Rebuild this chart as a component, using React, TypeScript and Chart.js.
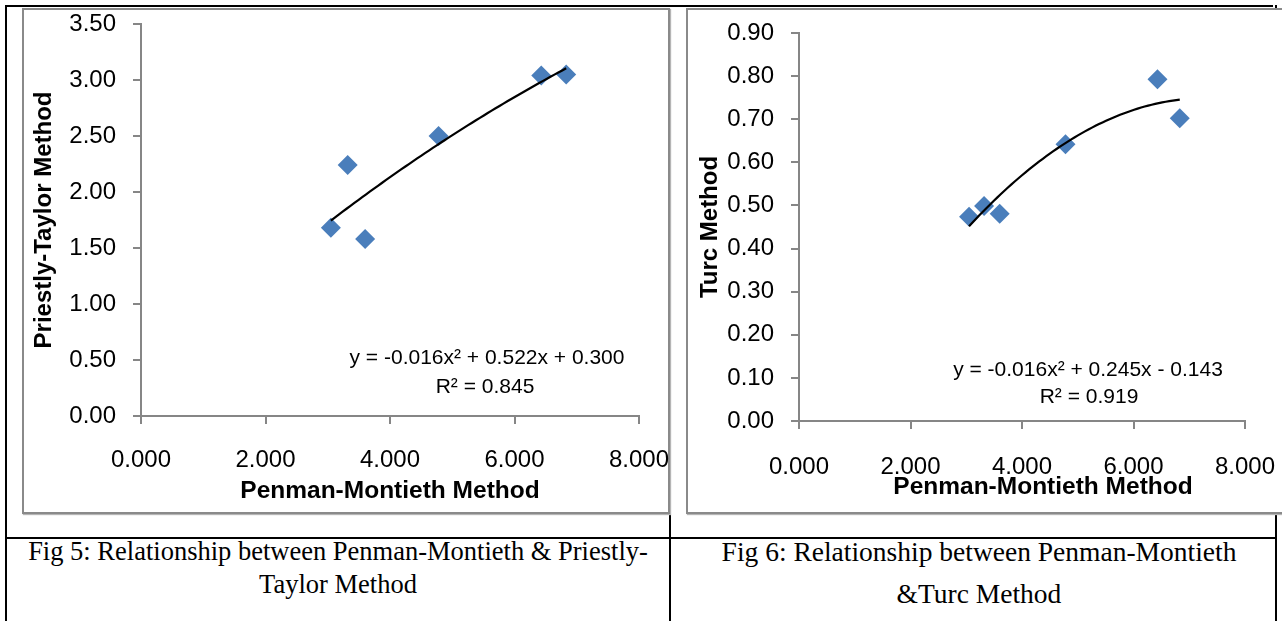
import React, { useEffect, useRef } from "react";
import { Chart, registerables } from "chart.js";

Chart.register(...registerables);

// ---- data ----
const penmanMonteith = [3.05, 3.32, 3.6, 4.78, 6.43, 6.83];
const priestlyTaylor = [1.68, 2.24, 1.58, 2.5, 3.04, 3.05];
const turcValues = [0.474, 0.499, 0.481, 0.642, 0.793, 0.702];

const xTickValues = [0, 2, 4, 6, 8];
const ptTickValues = [0, 0.5, 1, 1.5, 2, 2.5, 3, 3.5];
const turcTickValues = [0, 0.1, 0.2, 0.3, 0.4, 0.5, 0.6, 0.7, 0.8, 0.9];

const ptEquation = ["y = -0.016x\u00B2 + 0.522x + 0.300", "R\u00B2 = 0.845"];
const turcEquation = ["y = -0.016x\u00B2 + 0.245x - 0.143", "R\u00B2 = 0.919"];

const xTitle = "Penman-Montieth Method";
const ptTitle = "Priestly-Taylor Method";
const turcTitle = "Turc Method";

const caption5 = ["Fig 5: Relationship between Penman-Montieth & Priestly-", "Taylor Method"];
const caption6 = ["Fig 6: Relationship between Penman-Montieth", "&Turc Method"];

// ---- helpers ----
function quadFit(xs: number[], ys: number[]) {
  // least-squares fit y = a x^2 + b x + c (same as a polynomial trendline of order 2)
  let s0 = 0, s1 = 0, s2 = 0, s3 = 0, s4 = 0, t0 = 0, t1 = 0, t2 = 0;
  for (let i = 0; i < xs.length; i++) {
    const x = xs[i], y = ys[i];
    s0 += 1; s1 += x; s2 += x * x; s3 += x * x * x; s4 += x * x * x * x;
    t0 += y; t1 += x * y; t2 += x * x * y;
  }
  const M = [
    [s4, s3, s2, t2],
    [s3, s2, s1, t1],
    [s2, s1, s0, t0],
  ];
  for (let i = 0; i < 3; i++) {
    let p = i;
    for (let r = i + 1; r < 3; r++) if (Math.abs(M[r][i]) > Math.abs(M[p][i])) p = r;
    [M[i], M[p]] = [M[p], M[i]];
    for (let r = 0; r < 3; r++) {
      if (r === i) continue;
      const f = M[r][i] / M[i][i];
      for (let c = i; c < 4; c++) M[r][c] -= f * M[i][c];
    }
  }
  return [M[0][3] / M[0][0], M[1][3] / M[1][1], M[2][3] / M[2][2]];
}

function trendPoints(xs: number[], ys: number[]) {
  const [a, b, c] = quadFit(xs, ys);
  const lo = Math.min(...xs), hi = Math.max(...xs);
  const pts: { x: number; y: number }[] = [];
  const n = 60;
  for (let i = 0; i <= n; i++) {
    const x = lo + ((hi - lo) * i) / n;
    pts.push({ x, y: a * x * x + b * x + c });
  }
  return pts;
}

const freeTextPlugin = {
  id: "freeText",
  afterDraw(chart: any, _args: any, opts: any) {
    const ctx = chart.ctx;
    for (const t of opts.items || []) {
      ctx.save();
      ctx.font = t.font;
      ctx.fillStyle = "#000";
      ctx.textAlign = "center";
      ctx.textBaseline = "middle";
      ctx.translate(t.x, t.y);
      if (t.rotation) ctx.rotate(t.rotation);
      ctx.fillText(t.text, 0, 0);
      ctx.restore();
    }
  },
};

const FONT = "'Liberation Sans', Arial, sans-serif";
const AXIS_GRAY = "#868686";
const MARKER = "#4A7EBB";

type ChartSpec = {
  yValues: number[];
  yTicks: number[];
  yDecimals: number;
  yTitle: string;
  xTitleOnScale: boolean;
  padding: { left: number; right: number; top: number; bottom: number };
  yWidth: number;
  xHeight: number;
  xTickPadding: number;
  texts: any[];
};

function ScatterChart({ spec, width, height, style }: { spec: ChartSpec; width: number; height: number; style: React.CSSProperties }) {
  const ref = useRef<HTMLCanvasElement | null>(null);
  useEffect(() => {
    if (!ref.current) return;
    const points = penmanMonteith.map((x, i) => ({ x, y: spec.yValues[i] }));
    const chart = new Chart(ref.current, {
      type: "scatter",
      data: {
        datasets: [
          {
            label: "Trend",
            data: trendPoints(penmanMonteith, spec.yValues),
            showLine: true,
            borderColor: "#000",
            borderWidth: 2.2,
            pointRadius: 0,
            tension: 0,
            fill: false,
          } as any,
          {
            label: "Data",
            data: points,
            pointStyle: "rectRot",
            pointRadius: 10,
            pointHoverRadius: 10,
            backgroundColor: MARKER,
            borderWidth: 0,
          } as any,
        ],
      },
      options: {
        animation: false,
        responsive: false,
        layout: { padding: spec.padding },
        plugins: {
          legend: { display: false },
          tooltip: { enabled: false },
          freeText: { items: spec.texts },
        } as any,
        scales: {
          x: {
            type: "linear",
            min: xTickValues[0],
            max: xTickValues[xTickValues.length - 1],
            afterBuildTicks: (s: any) => {
              s.ticks = xTickValues.map((v) => ({ value: v }));
            },
            afterFit: (s: any) => {
              s.height = spec.xHeight;
            },
            ticks: {
              autoSkip: false,
              maxRotation: 0,
              padding: spec.xTickPadding,
              color: "#000",
              font: { family: FONT, size: 24 },
              callback: (v: any) => Number(v).toFixed(3),
            },
            grid: { drawOnChartArea: false, drawTicks: true, tickLength: 8, color: AXIS_GRAY, lineWidth: 2 },
            border: { display: true, color: AXIS_GRAY, width: 2 },
            title: {
              display: spec.xTitleOnScale,
              text: xTitle,
              color: "#000",
              padding: 0,
              font: { family: FONT, size: 24.5, weight: "bold" },
            },
          },
          y: {
            type: "linear",
            min: spec.yTicks[0],
            max: spec.yTicks[spec.yTicks.length - 1],
            afterBuildTicks: (s: any) => {
              s.ticks = spec.yTicks.map((v) => ({ value: v }));
            },
            afterFit: (s: any) => {
              s.width = spec.yWidth;
            },
            ticks: {
              autoSkip: false,
              padding: 17,
              color: "#000",
              font: { family: FONT, size: 24 },
              callback: (v: any) => Number(v).toFixed(spec.yDecimals),
            },
            grid: { drawOnChartArea: false, drawTicks: true, tickLength: 8, color: AXIS_GRAY, lineWidth: 2 },
            border: { display: true, color: AXIS_GRAY, width: 2 },
            title: {
              display: true,
              text: spec.yTitle,
              color: "#000",
              padding: 0,
              font: { family: FONT, size: 24, weight: "bold" },
            },
          },
        },
      },
      plugins: [freeTextPlugin as any],
    });
    return () => chart.destroy();
  }, [spec]);
  return <canvas ref={ref} width={width} height={height} style={{ position: "absolute", width, height, ...style }} />;
}

const eqFont = `21px ${FONT}`;

// left canvas sits at page (0,-8), 695x520 -> plot area x 141..639, y 24..416
const leftSpec: ChartSpec = {
  yValues: priestlyTaylor,
  yTicks: ptTickValues,
  yDecimals: 2,
  yTitle: ptTitle,
  xTitleOnScale: true,
  padding: { left: 30, right: 56, top: 32, bottom: 6 },
  yWidth: 111,
  xHeight: 90,
  xTickPadding: 22,
  texts: [
    { text: ptEquation[0], x: 487, y: 366, font: eqFont },
    { text: ptEquation[1], x: 485, y: 395, font: eqFont },
  ],
};

// right canvas sits at page (680,0), 621x520 -> plot area x 799..1245, y 33..421
const rightSpec: ChartSpec = {
  yValues: turcValues,
  yTicks: turcTickValues,
  yDecimals: 2,
  yTitle: turcTitle,
  xTitleOnScale: false,
  padding: { left: 16, right: 56, top: 33, bottom: 39 },
  yWidth: 103,
  xHeight: 60,
  xTickPadding: 24,
  texts: [
    { text: turcEquation[0], x: 408, y: 370, font: eqFont },
    { text: turcEquation[1], x: 409, y: 397, font: eqFont },
    { text: xTitle, x: 363, y: 487, font: `bold 24.5px ${FONT}` },
  ],
};

const line = (left: number, top: number, width: number, height: number): React.CSSProperties => ({
  position: "absolute",
  left,
  top,
  width,
  height,
  background: "#000",
});

const captionStyle: React.CSSProperties = {
  position: "absolute",
  textAlign: "center",
  fontFamily: "'Liberation Serif', 'Times New Roman', serif",
  fontSize: 26.5,
  color: "#000",
  whiteSpace: "nowrap",
};

export default function App() {
  return (
    <div
      style={{
        position: "absolute",
        left: 0,
        top: 0,
        width: 1282,
        height: 621,
        background: "#fff",
        overflow: "hidden",
      }}
    >
      {/* table lines */}
      <div style={line(5, 5, 1268, 2)} />
      <div style={line(5, 5, 2, 616)} />
      <div style={line(669, 500, 2, 121)} />
      <div style={line(5, 537, 1272, 2)} />
      <div style={line(1275, 5, 2, 616)} />

      {/* chart frames */}
      <div
        style={{
          position: "absolute",
          left: 22,
          top: 8,
          width: 644,
          height: 502,
          border: "2px solid #8a8a8a",
          boxShadow: "1px 1px 1px #b5b5b5",
          background: "#fff",
        }}
      />
      <div
        style={{
          position: "absolute",
          left: 686,
          top: 8,
          width: 620,
          height: 502,
          border: "2px solid #8a8a8a",
          boxShadow: "1px 1px 1px #b5b5b5",
          background: "#fff",
        }}
      />

      <ScatterChart spec={leftSpec} width={695} height={520} style={{ left: 0, top: -8 }} />
      <ScatterChart spec={rightSpec} width={621} height={520} style={{ left: 680, top: 0 }} />

      {/* captions */}
      <div style={{ ...captionStyle, left: 7, width: 662, top: 535 }}>
        <div style={{ height: 33, lineHeight: "33px" }}>{caption5[0]}</div>
        <div style={{ height: 33, lineHeight: "33px" }}>{caption5[1]}</div>
      </div>
      <div style={{ ...captionStyle, fontSize: 27.5, left: 677, width: 604, top: 535 }}>
        <div style={{ height: 38, lineHeight: "33px" }}>{caption6[0]}</div>
        <div style={{ height: 38, lineHeight: "42px" }}>{caption6[1]}</div>
      </div>
    </div>
  );
}
